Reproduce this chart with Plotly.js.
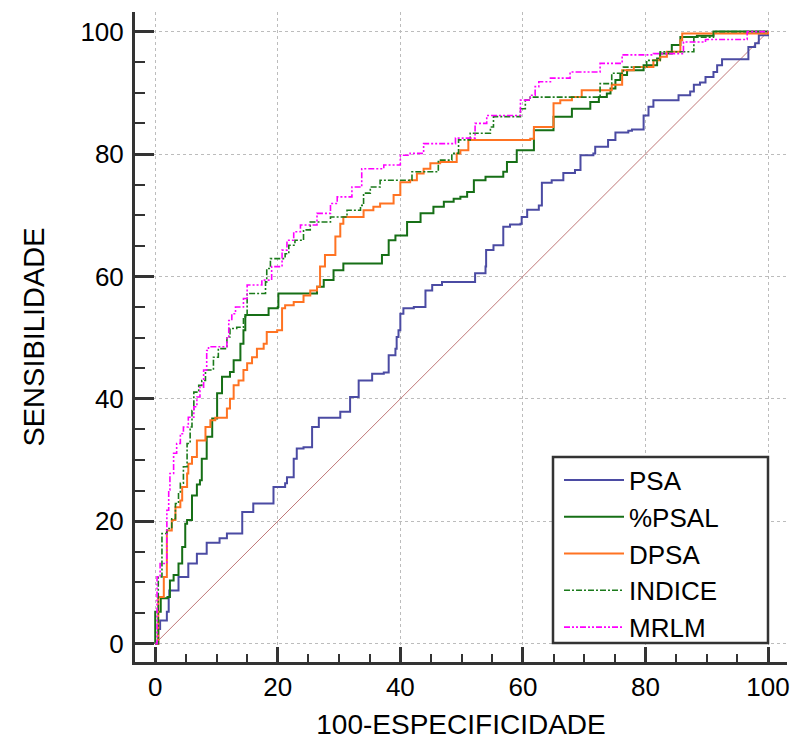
<!DOCTYPE html>
<html>
<head>
<meta charset="utf-8">
<script src="https://cdn.plot.ly/plotly-3.0.1.min.js"></script>
<style>html,body{margin:0;padding:0;background:#fff;}#chart{width:793px;height:742px;}</style>
</head>
<body>
<div id="chart"></div>
<script>
// ROC curves: x = 100-Especificidade, y = Sensibilidade
const seriesNames = ["PSA", "%PSAL", "DPSA", "INDICE", "MRLM"];

const psaX = [0,0.5,0.8,1.9,2.2,2.3,3.8,5.4,6.8,8.4,10.5,11.7,13.6,14.2,16,18.2,19.3,21.2,21.5,22.6,23.1,24.2,25.6,26.7,29.4,30.2,31.8,33.2,35.4,37.3,38.1,39.2,39.4,39.7,40,40.5,42.2,44.1,45.2,46.8,51.7,52.2,53.9,54,55.2,56,56.8,57.9,59.6,59.8,60.7,62.6,63.1,64.7,66.6,68.5,69.4,71.5,71.8,73.9,75.1,77.2,77.8,79.7,80.5,81.3,85.1,85.4,87.3,87.9,88.9,89.8,91.1,91.7,92.5,96.6,96.8,97.9,98.5,100];
const psaY = [0,2.4,3.8,5.2,7.6,8.7,10.9,13.1,14.7,16.5,17.2,18,18,21.5,22.9,22.9,25.6,26.2,27.2,30.2,31.9,32.1,35.4,36.9,36.9,37.9,40.3,43,44.1,44.3,47.1,48.2,50.1,51.2,53.9,54.8,55,57.7,58.6,59.1,59.1,60.5,61.6,64.3,65.1,65.1,68.1,68.5,68.6,69.7,70.9,71.6,75.3,75.7,76.9,77.4,79.8,80.1,81.2,82.3,83.5,83.8,84,86.3,87.7,88.8,88.8,89.6,90.2,91.3,91.7,92.6,93.4,94.5,95.5,95.5,97.5,98.1,99.4,100];

const psalX = [0,0,0.9,2.0,2.4,3.0,3.8,4.4,4.9,5.2,6.0,6.8,7.3,7.6,8.4,9.3,10.1,10.9,12.2,12.8,13.9,14.4,14.7,16.8,18.5,20,20.1,22.6,26.4,27.5,29.1,30.7,36.7,37,38.1,39.2,41.1,43.3,45.4,47.1,48.7,49.8,50.9,52,53.9,56.8,57.4,59,61.2,61.8,64.2,65,68,71,72.4,73.7,74.3,75.1,75.9,77,79.7,81.3,81.9,82.4,84.3,85.7,88.4,91.1,100];
const psalY = [0,5.2,7.4,7.6,10.3,11.2,13.1,15.8,19.6,20.2,24.2,26,26.7,30.2,33.8,36.8,40.9,43.6,44.4,46.3,49,51.2,53.7,53.7,54.8,55,57.2,57.2,58.3,59.4,61,62.1,62.1,63.5,65.9,66.7,68.9,70.3,71.4,72.2,72.7,73,73.8,75.7,76.3,77.1,78.7,80.6,80.6,83.9,83.9,86.1,87.4,88.5,89.3,89.9,90.7,92.1,92.9,93.7,94.5,94.5,95.6,96.4,97.8,99.1,99.3,100,100];

const dpsaX = [0,0.5,1.4,1.9,2.7,3.3,4.1,4.4,5.2,5.4,6,6.8,8.2,9,9.8,11.7,12.2,12.8,13.6,14.4,15,15.8,16.6,17.7,18.2,19.9,20.7,21.2,22.6,24.2,25.3,26.4,26.9,27.7,29.4,30.2,30.7,34,35.6,36.7,38.9,40,41.6,42.7,43.8,44.9,46.5,49.2,49.8,51.1,61.2,61.8,64.2,65,66.1,68,69.6,74,74.5,76.2,78.1,81.3,82.4,83.5,85.7,86,96.8,100];
const dpsaY = [0,7.6,10.9,18.5,20.2,22.3,23.4,25.6,27.8,29.4,30.5,33.2,35.4,36.5,36.9,38.4,40,42.2,43,44.7,45.8,46.8,48.2,49,50.9,51.2,54.8,55.3,55.8,56.9,57.7,58.3,61.6,63.5,66.5,68.6,69.7,70.8,71.4,71.9,73.3,75.4,75.7,76.8,77.6,78.5,78.7,80.1,80.6,82.3,82.5,84.4,84.4,88.3,88.8,89.3,90.4,90.4,91.3,93.7,94.2,95.3,95.9,96.7,98.6,99.7,99.7,100];

const indiceX = [0,0.5,1.1,1.9,2.7,3.3,3.8,4.1,4.6,5.2,5.7,6,6.3,7.1,7.6,8.2,9.5,10.3,11.1,11.7,12.2,13.3,14.4,15,16.9,18,18.2,18.8,20.1,21.2,21.8,22.8,24.2,25.3,28.6,30.2,31.3,33.5,34,35.1,36.7,40.5,41.9,45.7,46.2,48.4,49.5,51.4,54.7,55.2,59.6,60.4,61.2,72.1,72.6,74.5,76.4,80.2,82.4,87.9,91.1,100];
const indiceY = [0,10.9,18,18.8,20.4,22.9,24.5,26.2,28.9,32.7,35.4,38.1,41.1,42.2,43,44.7,46.8,48.2,48.2,50.1,51.5,51.7,53.4,57.2,57.2,59.1,61.3,62.9,62.9,63.7,65.1,65.9,67.6,68.9,69.7,69.7,70.8,71.6,73.6,74.6,75.7,75.7,77.1,77.1,79,80.1,82.3,83.4,84.4,86.1,87.4,88.8,89.3,89.3,91.5,93.2,94.2,95.3,96.7,99.1,100,100];

const mrlmX = [0,0.3,0.8,1.9,2.2,2.4,3,3.5,4.1,4.6,5.4,6.3,6.8,7.3,7.9,8.4,8.7,10.6,11.7,12,12.5,13.1,14.4,15,17.4,19,20.7,21.5,22.6,23.7,26.4,28.6,29.7,32.1,33.7,37.3,40,41.6,43.8,46.5,49,51.5,52.2,54.1,59.6,61.2,62,62.6,64.5,67.7,72.6,76.2,81.3,86.2,89.8,96.6,100];
const mrlmY = [0,10.9,13.1,21.8,25.1,27.8,31.1,32.7,34.3,35.4,37,38.7,40.3,41.9,44.7,47.9,48.5,48.5,50.1,52.8,53.9,55,56.4,58.6,59.4,61.6,64.3,65.9,67.3,68.4,70.3,71.9,73,74.6,77.6,78.2,79.8,80.1,81.7,81.7,82.6,82.6,85,86.3,88.8,89.6,91,91.8,92.4,93.4,94.8,96.2,96.4,98.3,98.7,100,100];

const refX = [0, 100];
const refY = [0, 100];

const tickVals = [0, 20, 40, 60, 80, 100];
const xTitle = "100-ESPECIFICIDADE";
const yTitle = "SENSIBILIDADE";

const FONT = "Liberation Sans, Arial, sans-serif";

const traces = [
  {x: refX, y: refY, mode: "lines", line: {color: "rgb(185,105,105)", width: 0.9}, showlegend: false, hoverinfo: "skip"},
  {x: psaX, y: psaY, name: seriesNames[0], mode: "lines", line: {color: "#4b4ba3", width: 2, shape: "hv"}},
  {x: psalX, y: psalY, name: seriesNames[1], mode: "lines", line: {color: "#166f16", width: 2, shape: "hv"}},
  {x: dpsaX, y: dpsaY, name: seriesNames[2], mode: "lines", line: {color: "#ff7322", width: 2, shape: "hv"}},
  {x: indiceX, y: indiceY, name: seriesNames[3], mode: "lines", line: {color: "#1b7a1b", width: 1.6, shape: "hv", dash: "6px,2px,2px,2px"}},
  {x: mrlmX, y: mrlmY, name: seriesNames[4], mode: "lines", line: {color: "#ff00ff", width: 1.6, shape: "hv", dash: "6px,2px,2px,2px,2px,2px"}}
];

const axisCommon = {
  showline: true, linewidth: 3, linecolor: "#333",
  ticks: "inside", tickwidth: 3, tickcolor: "#333",
  tickmode: "array", tickvals: tickVals, ticktext: tickVals.map(String),
  showgrid: true, gridcolor: "#bcbcbc", griddash: "dot", gridwidth: 1,
  zeroline: false,
  tickfont: {family: FONT, size: 26, color: "#000"},
  minor: {tickmode: "linear", tick0: 0, dtick: 5, ticks: "inside", tickwidth: 2, tickcolor: "#333", showgrid: false}
};

// legend frame geometry (paper fractions of the plot area)
const plotL = 135, plotW = 652, plotB = 662, plotH = 650;
const px2x = p => (p - plotL) / plotW;
const py2y = p => (plotB - p) / plotH;

const layout = {
  width: 793, height: 742,
  margin: {l: 135, r: 6, t: 12, b: 80},
  paper_bgcolor: "#fff", plot_bgcolor: "#fff",
  font: {family: FONT, color: "#000"},
  xaxis: Object.assign({}, axisCommon, {
    range: [-3.3, 103.1], ticklen: 15,
    minor: Object.assign({}, axisCommon.minor, {ticklen: 8}),
    ticklabelstandoff: 0,
    title: {text: xTitle, font: {family: FONT, size: 28, color: "#000"}, standoff: 14}
  }),
  yaxis: Object.assign({}, axisCommon, {
    range: [-3, 103.2], ticklen: 19,
    minor: Object.assign({}, axisCommon.minor, {ticklen: 10}),
    ticklabelstandoff: 3,
    title: {text: yTitle, font: {family: FONT, size: 29, color: "#000"}, standoff: 28}
  }),
  shapes: [{
    type: "rect", xref: "paper", yref: "paper", layer: "above",
    x0: px2x(553), x1: px2x(768), y0: py2y(643), y1: py2y(457),
    line: {color: "#333", width: 2.5}, fillcolor: "#fff"
  }],
  showlegend: true,
  legend: {
    x: px2x(559), xanchor: "left", y: py2y(554), yanchor: "middle",
    bgcolor: "rgba(0,0,0,0)", borderwidth: 0,
    font: {family: FONT, size: 26, color: "#000"},
    itemwidth: 60, tracegroupgap: 0, traceorder: "normal"
  }
};

Plotly.newPlot("chart", traces, layout, {displayModeBar: false, staticPlot: true});
</script>
</body>
</html>
